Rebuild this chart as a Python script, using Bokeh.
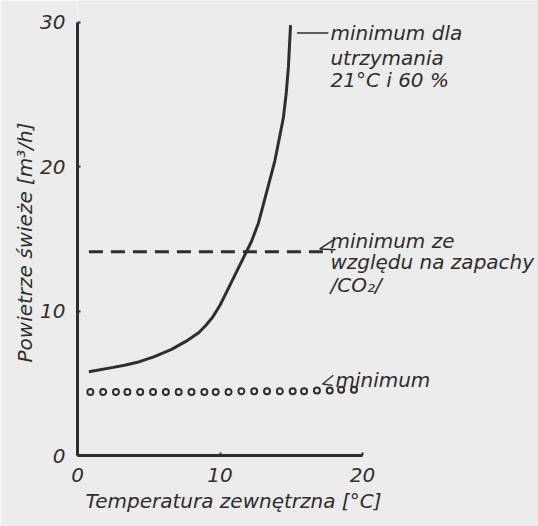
from bokeh.plotting import figure
from bokeh.models import Range1d, FixedTicker, Title
from bokeh.core.properties import value
from bokeh.embed import file_html
from bokeh.resources import INLINE

# ---- data ----
curve_x = [0.8, 2.5, 3.3, 4.2, 5.4, 6.6, 7.6, 8.5, 9.0, 9.5, 10.0, 10.7, 11.4, 12.2, 12.7, 13.1, 13.85, 14.15, 14.45, 14.65, 14.8, 14.95]
curve_y = [5.8, 6.1, 6.25, 6.45, 6.85, 7.35, 7.9, 8.5, 9.0, 9.6, 10.4, 11.8, 13.2, 14.8, 16.1, 17.6, 20.4, 21.9, 23.4, 25.1, 26.9, 29.8]

odour_x = [0.8, 17.9]
odour_y = [14.1, 14.1]

min_x = [0.9, 1.8, 2.7, 3.5, 4.4, 5.3, 6.2, 7.1, 8.0, 8.9, 9.7, 10.6, 11.5, 12.4, 13.3, 14.2, 15.1, 15.9, 16.8, 17.7, 18.5, 19.4]
min_y = [4.4, 4.4, 4.4, 4.4, 4.4, 4.4, 4.4, 4.4, 4.4, 4.4, 4.4, 4.4, 4.45, 4.45, 4.45, 4.45, 4.45, 4.45, 4.5, 4.5, 4.55, 4.55]

x_ticks = [0, 10, 20]
y_ticks = [0, 10, 20, 30]

label_x = [17.75, 17.75, 17.75, 17.75, 17.75, 17.75, 18.1]
label_y = [29.25, 27.55, 26.0, 14.85, 13.4, 11.8, 5.2]
label_text = ["minimum dla", "utrzymania", "21°C i  60 %",
              "minimum  ze", "względu na zapachy", "/CO₂/",
              "minimum"]

x_title = "Temperatura  zewnętrzna [°C]"
y_title = "Powietrze  świeże [m³/h]"

INK = "#2e2e2e"
BG = "#ececec"
FONT = "DejaVu Sans"

p = figure(width=538, height=526, output_backend="svg", toolbar_location=None,
           x_range=Range1d(0, 32.35), y_range=Range1d(0, 31.5),
           min_border_left=77, min_border_right=0, min_border_top=0, min_border_bottom=71)
p.background_fill_color = BG
p.border_fill_color = BG
p.outline_line_color = None
p.xgrid.visible = False
p.ygrid.visible = False

for ax in (p.xaxis[0], p.yaxis[0]):
    ax.axis_line_color = INK
    ax.axis_line_width = 3
    ax.major_tick_line_color = INK
    ax.major_tick_line_width = 2
    ax.major_tick_in = 3
    ax.major_tick_out = 0
    ax.minor_tick_line_color = None
    ax.major_label_text_font = FONT
    ax.major_label_text_font_style = "italic"
    ax.major_label_text_font_size = "20px"
    ax.major_label_text_color = INK

p.xaxis[0].bounds = (0, 20)
p.yaxis[0].bounds = (0, 30)
p.xaxis[0].ticker = FixedTicker(ticks=x_ticks)
p.yaxis[0].ticker = FixedTicker(ticks=y_ticks)
p.xaxis[0].major_label_standoff = 12
p.yaxis[0].major_label_standoff = 12
p.xaxis[0].major_label_text_line_height = 1.7

p.add_layout(Title(text=x_title, align="left", offset=8, standoff=8,
                   vertical_align="top", text_line_height=0.8,
                   text_font=FONT, text_font_style="italic",
                   text_font_size="20px", text_color=INK), "below")
p.add_layout(Title(text=y_title, align="left", offset=93, standoff=2,
                   text_font=FONT, text_font_style="italic",
                   text_font_size="20px", text_color=INK), "left")

# series
p.line(curve_x, curve_y, line_color=INK, line_width=3)
p.line(odour_x, odour_y, line_color=INK, line_width=3, line_dash="14 8")
p.scatter(min_x, min_y, marker="circle", size=6, fill_color=BG,
          line_color=INK, line_width=2)

# leaders
p.line([15.4, 17.6], [29.25, 29.25], line_color=INK, line_width=1.5)
p.line([18.0, 17.0, 18.1], [14.95, 14.3, 14.25], line_color=INK, line_width=1.5)
p.line([17.95, 17.2, 17.9], [5.55, 4.95, 4.85], line_color=INK, line_width=1.3)

p.text(x=label_x, y=label_y, text=label_text,
       text_font=value(FONT), text_font_style="italic", text_font_size="20px",
       text_color=INK, text_align="left", text_baseline="middle")

open("out.html", "w").write(file_html(p, INLINE))
